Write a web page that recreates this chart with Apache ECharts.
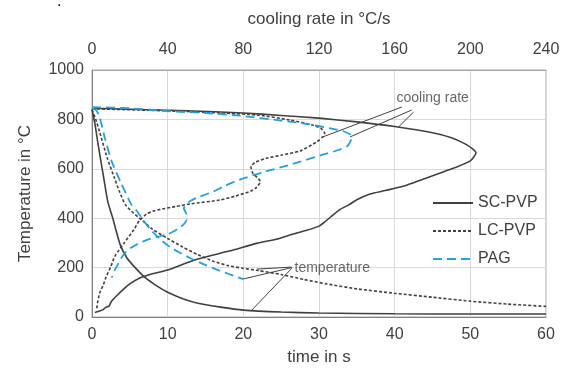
<!DOCTYPE html>
<html>
<head>
<meta charset="utf-8">
<script src="https://cdn.jsdelivr.net/npm/echarts@6/dist/echarts.min.js"></script>
<style>
html,body{margin:0;padding:0;background:#fff;}
#chart{width:563px;height:374px;}
</style>
</head>
<body>
<div id="chart"></div>
<script>
var names = ['SC-PVP', 'LC-PVP', 'PAG'];

// temperature curves: [time in s, temperature in °C]
var scTemp = [[0,840],[0.4,780],[0.8,700],[1.5,572],[2.1,465],[2.7,405],[3.7,295],[4.6,240],[5.7,200],[7,160],[8.5,127],[10,100],[12,74],[14,56],[17,40],[20,28],[25,20],[30,16],[40,13],[50,12],[60,12]];
var lcTemp = [[0,840],[0.5,800],[1,750],[2,645],[3,560],[3.6,510],[4.4,455],[5.5,420],[6.5,395],[8,355],[10,318],[12,283],[14,252],[16,226],[18,208],[20,197],[22,188],[25,172],[28,152],[31,134],[35,114],[40,96],[45,80],[50,64],[55,52],[60,43]];
var pagTemp = [[0,845],[0.6,835],[1.05,805],[1.7,725],[2.6,630],[3.8,545],[5.2,455],[5.9,430],[6.6,400],[7.7,355],[9,315],[10,290],[11.5,262],[13,238],[15,210],[16.5,192],[18,175],[20,153]];

// cooling rate curves: [cooling rate in °C/s, temperature in °C]
var scRate = [[0,845],[20,841],[50,835],[80,826],[100,816],[120,805],[140,790],[160,771],[180,746],[190,726],[197,702],[201,682],[203,665],[200,632],[192,605],[183,580],[175,558],[165,530],[155,512],[147,498],[140,475],[136,455],[131,435],[127,410],[123,385],[120,368],[113,350],[105,333],[99,318],[87,298],[73,268],[55,233],[40,190],[32,175],[25,157],[20,134],[16,108],[12,78],[10,60],[9,44],[7,38],[6,30],[4,24],[1.5,18]];
var lcRate = [[0,843],[25,838],[50,832],[87,818],[105,797],[116,778],[121,764],[123,744],[122,730],[119,710],[110,672],[100,655],[92,642],[86,625],[84,609],[85,582],[88,560],[89,548],[87,525],[84,510],[76,490],[68,474],[52,458],[44,447],[37,437],[32,428],[29,418],[25,390],[22,352],[17,300],[12,245],[10,205],[7.5,163],[6,130],[4,96],[3,60],[2.5,35],[2,28]];
var pagRate = [[0,850],[20,845],[41,833],[60,826],[78,815],[100,795],[115,780],[126,764],[133,752],[137,735],[137,720],[135,692],[130,675],[122,657],[105,617],[90,585],[78,556],[70,530],[64,507],[56,485],[52,470],[48.5,440],[50,415],[50,395],[48,372],[44,350],[40,335],[35,325],[29,312],[24,295],[19,272],[16,245],[14,217],[12,190],[10.5,160]];

// annotation texts and leader lines (data units of their axes)
var rateNote = [160.7, 887];
var rateLeaders = [[[163.8,850],[122,729]], [[169,838],[136.4,729]], [[170,830],[162,769]]];
var tempNote = [26.7, 198];
var tempLeaders = [[[26.4,202],[21.8,194]], [[26.4,200],[20,154]], [[26.4,197],[21,24]]];

var timeTicks = {min: 0, max: 60, step: 10};
var rateTicks = {min: 0, max: 240, step: 40};
var tempTicks = {min: 0, max: 1000, step: 200};

var txt = '#404040', font = 'Liberation Sans, Arial, sans-serif';
var styles = {
	'SC-PVP': {color: '#404040', width: 1.6, type: 'solid'},
	'LC-PVP': {color: '#404040', width: 1.6, type: [3, 2]},
	'PAG': {color: '#2a9fd6', width: 1.8, type: [9, 5]}
};

function curve(name, data, axis) {
	return {
		name: name, type: 'line', xAxisIndex: axis, data: data,
		symbol: 'none', smooth: 0.2, silent: true,
		itemStyle: {color: styles[name].color},
		lineStyle: styles[name]
	};
}

function note(text, pos, leaders, axis) {
	return {
		name: text, type: 'scatter', xAxisIndex: axis, data: [pos],
		symbolSize: 1, itemStyle: {color: 'rgba(0,0,0,0)'}, silent: true,
		label: {show: true, position: 'right', distance: 0, formatter: text,
			fontSize: 14, color: txt, fontFamily: font},
		markLine: {
			symbol: 'none', silent: true, label: {show: false},
			lineStyle: {color: '#404040', width: 1, type: 'solid'},
			data: leaders.map(function(l){ return [{coord: l[0]}, {coord: l[1]}]; })
		}
	};
}

var plain = function(v){ return String(v); };

var myChart = echarts.init(document.getElementById('chart'));
var option = {
	animation: false,
	textStyle: {fontFamily: font},
	graphic: [{type: 'text', left: 57, top: -6, style: {text: '.', fontSize: 16, fill: '#000'}}],
	grid: {left: 92, right: 17, top: 70, bottom: 57, show: true, borderColor: '#a6a6a6', borderWidth: 1},
	legend: {
		data: names, orient: 'vertical', left: 432, top: 195,
		itemWidth: 40, itemHeight: 14, itemGap: 12, padding: 0,
		itemStyle: {opacity: 0},
		textStyle: {fontSize: 16, color: txt, fontFamily: font}
	},
	xAxis: [{
		type: 'value', position: 'bottom', min: timeTicks.min, max: timeTicks.max, interval: timeTicks.step,
		name: 'time in s', nameLocation: 'middle', nameGap: 32,
		nameTextStyle: {fontSize: 17, color: txt},
		axisLine: {lineStyle: {color: '#808080'}}, axisTick: {show: false},
		axisLabel: {fontSize: 16, color: txt, margin: 10, formatter: plain},
		splitLine: {lineStyle: {color: '#d9d9d9'}}
	}, {
		type: 'value', position: 'top', min: rateTicks.min, max: rateTicks.max, interval: rateTicks.step,
		name: 'cooling rate in °C/s', nameLocation: 'middle', nameGap: 42,
		nameTextStyle: {fontSize: 17, color: txt},
		axisLine: {show: true, lineStyle: {color: '#a6a6a6'}}, axisTick: {show: false},
		axisLabel: {fontSize: 16, color: txt, margin: 12, formatter: plain},
		splitLine: {show: false}
	}],
	yAxis: {
		type: 'value', min: tempTicks.min, max: tempTicks.max, interval: tempTicks.step,
		name: 'Temperature in °C', nameLocation: 'middle', nameGap: 58, nameRotate: 90,
		nameTextStyle: {fontSize: 17, color: txt},
		axisLine: {show: true, lineStyle: {color: '#808080'}}, axisTick: {show: false},
		axisLabel: {fontSize: 16, color: txt, margin: 8, formatter: plain},
		splitLine: {lineStyle: {color: '#d9d9d9'}}
	},
	series: [
		curve('SC-PVP', scTemp, 0),
		curve('SC-PVP', scRate, 1),
		curve('LC-PVP', lcTemp, 0),
		curve('LC-PVP', lcRate, 1),
		curve('PAG', pagTemp, 0),
		curve('PAG', pagRate, 1),
		note('cooling rate', rateNote, rateLeaders, 1),
		note('temperature', tempNote, tempLeaders, 0)
	]
};
myChart.setOption(option);
</script>
</body>
</html>
